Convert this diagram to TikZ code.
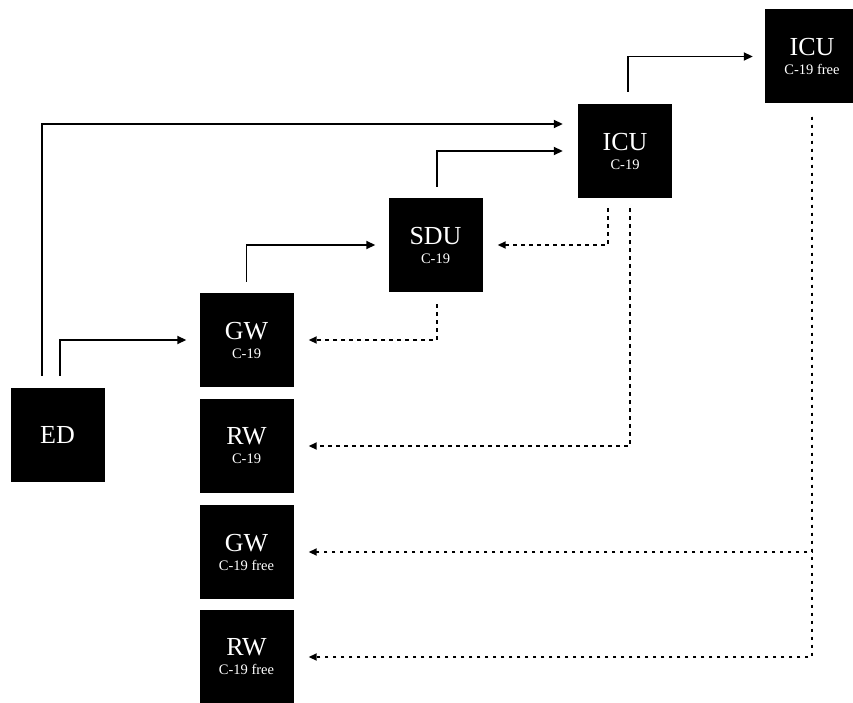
\documentclass[tikz,border=0pt]{standalone}
\usepackage{fontspec}
\setmainfont{Liberation Serif}
\usetikzlibrary{positioning, arrows.meta}
\newcommand{\wardsub}[1]{{\fontsize{14.5}{16}\selectfont #1}}

\begin{document}
\begin{tikzpicture}[x=1pt, y=-1pt,
    unit/.style={rectangle, fill=black, text=white, minimum size=94pt,
                 inner sep=0pt, font=\fontsize{26}{19}\selectfont, align=center},
    arr/.style={-{Triangle[length=9pt, width=8pt]}, line width=1.8pt},
    back/.style={-{Triangle[length=8pt, width=7pt]}, line width=1.8pt,
                 dash pattern=on 3.5pt off 4.5pt}
  ]
  \useasboundingbox (0,0) rectangle (853,703);

  \node[unit] (ed)   at (57.5, 435)  {ED};
  \node[unit] (gw)   at (246.5, 340) {GW\\\wardsub{C-19}};
  \node[unit] (rw)   at (246.5, 446) {RW\\\wardsub{C-19}};
  \node[unit] (gwf)  at (246.5, 552) {GW\\\wardsub{C-19 free}};
  \node[unit] (rwf)  at (246.5, 657) {RW\\\wardsub{C-19 free}};
  \node[unit] (sdu)  at (435.5, 245) {SDU\\\wardsub{C-19}};
  \node[unit] (icu)  at (625, 151)   {ICU\\\wardsub{C-19}};
  \node[unit] (icuf) at (812, 56.5)  {ICU\\\wardsub{C-19 free}};

  % admissions / step-ups
  \draw[arr] ([shift={(2.5,-12)}]ed.north) |- ([xshift=-13]gw.west);
  \draw[arr] ([shift={(-15.5,-12)}]ed.north) |- ([shift={(-15,-27)}]icu.west);
  \draw[arr] ([shift={(0,-11)}]gw.north) |- ([xshift=-13]sdu.west);
  \draw[arr] ([shift={(1.5,-11)}]sdu.north) |- ([xshift=-15]icu.west);
  \draw[arr] ([shift={(3,-12)}]icu.north) |- ([xshift=-12]icuf.west);

  % step-downs
  \draw[back] ([shift={(-17,10)}]icu.south) |- ([xshift=15]sdu.east);
  \draw[back] ([shift={(5,10)}]icu.south) |- ([xshift=15]rw.east);
  \draw[back] ([shift={(1.5,12)}]sdu.south) |- ([xshift=15]gw.east);
  \foreach \t in {gwf, rwf} {
    \draw[back] ([shift={(0,13)}]icuf.south) |- ([xshift=15]\t.east);
  }
\end{tikzpicture}
\end{document}
